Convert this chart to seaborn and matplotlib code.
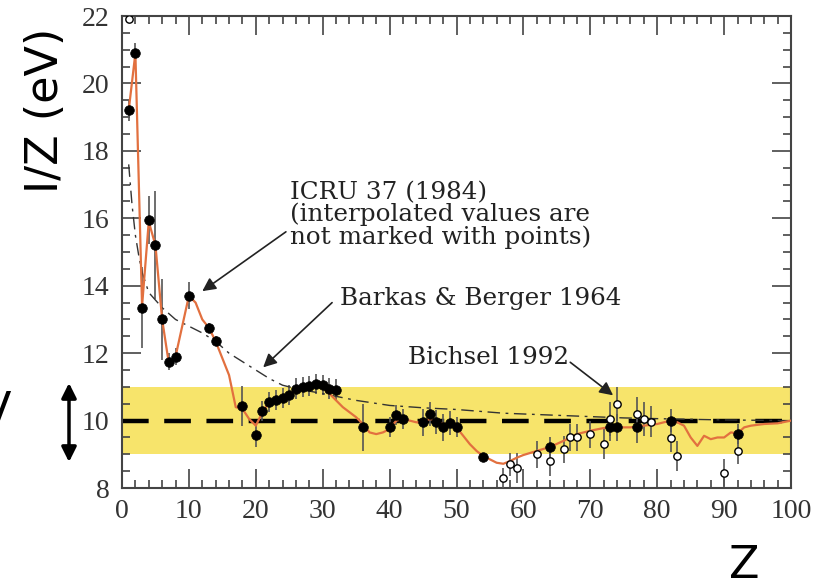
import matplotlib
matplotlib.use("Agg")
import matplotlib.pyplot as plt
import seaborn as sns
from matplotlib.ticker import MultipleLocator

# ---- data ----
# measured values, filled markers
filled_z = [1, 2, 3, 4, 5, 6, 7, 8, 10, 13, 14, 18, 20, 21, 22, 23, 24, 25, 26,
            27, 28, 29, 30, 31, 32, 36, 40, 41, 42, 45, 46, 47, 48, 49, 50, 54,
            64, 73, 74, 77, 82, 92]
filled_i = [19.2, 20.9, 13.35, 15.95, 15.2, 13.0, 11.75, 11.9, 13.7, 12.75, 12.35,
            10.43, 9.57, 10.28, 10.55, 10.62, 10.68, 10.75, 10.95, 11.0, 11.02,
            11.08, 11.05, 10.95, 10.92, 9.8, 9.8, 10.17, 10.05, 9.95, 10.2, 9.95,
            9.8, 9.93, 9.8, 8.92, 9.22, 9.8, 9.8, 9.8, 10.0, 9.6]
filled_err = [0.3, 0.3, 1.2, 0.7, 1.6, 1.2, 0.25, 0.25, 0.4, 0.15, 0.15, 0.6,
              0.35, 0.3, 0.3, 0.3, 0.3, 0.3, 0.3, 0.3, 0.3, 0.3, 0.3, 0.3, 0.3,
              0.7, 0.3, 0.3, 0.3, 0.4, 0.35, 0.35, 0.4, 0.35, 0.3, 0.05, 0.3,
              0.4, 0.4, 0.45, 0.35, 0.3]

# open markers
open_z = [1, 57, 58, 59, 62, 64, 66, 67, 68, 70, 72, 73, 74, 77, 78, 79, 82, 83, 90, 92]
open_i = [21.9, 8.3, 8.7, 8.6, 9.0, 8.8, 9.15, 9.5, 9.5, 9.6, 9.3, 10.05, 10.5,
          10.2, 10.05, 9.97, 9.48, 8.95, 8.45, 9.1]
open_err = [0.1, 0.3, 0.35, 0.45, 0.4, 0.45, 0.4, 0.4, 0.4, 0.4, 0.45, 0.5, 0.5,
            0.5, 0.5, 0.45, 0.4, 0.45, 0.4, 0.4]

# ICRU 37 (1984) curve
icru_z = [1, 2, 3, 4, 5, 6, 7, 8, 9, 10, 11, 12, 13, 14, 15, 16, 17, 18, 19, 20,
          21, 22, 23, 24, 25, 26, 27, 28, 29, 30, 31, 32, 33, 34, 35, 36, 37, 38,
          39, 40, 41, 42, 43, 44, 45, 46, 47, 48, 49, 50, 51, 52, 53, 54, 55, 56,
          57, 58, 59, 60, 62, 64, 66, 68, 70, 72, 74, 76, 78, 80, 82, 83, 84, 85,
          86, 87, 88, 89, 90, 91, 92, 93, 94, 96, 98, 100]
icru_i = [19.2, 20.9, 13.4, 15.9, 15.2, 13.0, 11.7, 11.9, 12.8, 13.7, 13.5, 13.0,
          12.75, 12.35, 11.85, 11.35, 10.4, 10.35, 10.05, 9.85, 10.25, 10.55,
          10.62, 10.7, 10.75, 10.95, 11.0, 11.0, 11.05, 11.0, 10.8, 10.6, 10.4,
          10.25, 10.1, 9.9, 9.65, 9.6, 9.65, 9.75, 10.0, 10.05, 10.0, 9.95, 9.95,
          10.05, 10.0, 9.9, 9.9, 9.8, 9.55, 9.3, 9.1, 8.95, 8.85, 8.75, 8.72,
          8.8, 8.9, 8.98, 9.1, 9.22, 9.4, 9.6, 9.7, 9.78, 9.8, 9.8, 9.85, 9.9,
          10.0, 9.95, 9.85, 9.5, 9.25, 9.55, 9.45, 9.5, 9.5, 9.65, 9.62, 9.8,
          9.85, 9.9, 9.92, 10.0]

# Barkas & Berger 1964 curve
bb_z = [1, 1.5, 2, 2.5, 3, 4, 6, 8, 10, 12, 14, 16, 18, 20, 22, 24, 26, 30, 35,
        40, 45, 50, 57, 66, 75, 82, 90, 100]
bb_i = [17.6, 16.4, 15.5, 14.9, 14.4, 13.8, 13.35, 13.0, 12.8, 12.6, 12.35, 12.0,
        11.75, 11.5, 11.25, 11.05, 10.95, 10.8, 10.6, 10.45, 10.38, 10.33, 10.22,
        10.15, 10.08, 10.05, 10.02, 10.0]

band_low, band_high = 9, 11
ref_level = 10

x_ticks = [0, 10, 20, 30, 40, 50, 60, 70, 80, 90, 100]
y_ticks = [8, 10, 12, 14, 16, 18, 20, 22]

# ---- figure ----
sns.set_theme(style="ticks")
plt.rcParams["font.family"] = ["DejaVu Sans"]

fig = plt.figure(figsize=(8.21, 5.88), dpi=100)
ax = fig.add_axes([0.1486, 0.170, 0.8149, 0.8027])

ax.axhspan(band_low, band_high, color="#f7e46b", zorder=0, lw=0)
ax.axhline(ref_level, color="black", lw=3.2, dashes=(6, 3.5), zorder=2)

ax.errorbar(filled_z, filled_i, yerr=filled_err, fmt="none", ecolor="#555555",
            elinewidth=1.2, capsize=0, zorder=3)
ax.errorbar(open_z, open_i, yerr=open_err, fmt="none", ecolor="#555555",
            elinewidth=1.2, capsize=0, zorder=3)

sns.lineplot(x=bb_z, y=bb_i, ax=ax, color="#333333", lw=1.0,
             linestyle=(0, (9, 4, 2, 4)), sort=False, estimator=None, zorder=3)
sns.lineplot(x=icru_z, y=icru_i, ax=ax, color="#e2703f", lw=1.6,
             sort=False, estimator=None, zorder=4)

sns.scatterplot(x=filled_z, y=filled_i, ax=ax, color="black", s=48,
                edgecolor="black", linewidth=0.5, zorder=5)
sns.scatterplot(x=open_z, y=open_i, ax=ax, color="white", s=28,
                edgecolor="black", linewidth=1.0, zorder=5)

ax.set_xlim(0, 100)
ax.set_ylim(8, 22)
ax.set_xticks(x_ticks)
ax.set_yticks(y_ticks)
ax.xaxis.set_minor_locator(MultipleLocator(2))
ax.yaxis.set_minor_locator(MultipleLocator(0.5))
ax.tick_params(which="both", direction="in", top=True, right=True,
               color="#444444", width=1.2)
ax.tick_params(which="major", length=14, labelsize=20, labelcolor="#333333")
ax.tick_params(axis="x", which="major", pad=8)
ax.tick_params(axis="y", which="major", pad=9)
ax.tick_params(which="minor", length=6)
for lab in ax.get_xticklabels() + ax.get_yticklabels():
    lab.set_fontfamily("Liberation Serif")
for sp in ax.spines.values():
    sp.set_color("#444444")
    sp.set_linewidth(1.5)
ax.set_xlabel("")
ax.set_ylabel("")

# annotations
note_font = dict(family="DejaVu Serif", fontsize=17.7, color="#222222")
ax.text(25.1, 17.1, "ICRU 37 (1984)\n(interpolated values are\nnot marked with points)",
        ha="left", va="top", linespacing=0.93, **note_font)
ax.text(32.6, 13.63, "Barkas & Berger 1964", ha="left", va="center", **note_font)
ax.text(42.75, 11.88, "Bichsel 1992", ha="left", va="center", **note_font)

arrow = dict(arrowstyle="-|>", color="#222222", lw=1.2, mutation_scale=20,
             shrinkA=0, shrinkB=0)
ax.annotate("", xy=(12.0, 13.84), xytext=(24.5, 15.6), arrowprops=arrow)
ax.annotate("", xy=(21.1, 11.58), xytext=(31.4, 13.5), arrowprops=arrow)
ax.annotate("", xy=(73.4, 10.75), xytext=(67.0, 11.73), arrowprops=arrow)

# labels outside the axes
fig.text(45 / 821, 1 - 110 / 588, "I/Z (eV)", rotation=90, ha="center",
         va="center", fontsize=32, color="black")
fig.text(744 / 821, 1 - 587 / 588, "Z", ha="center", va="bottom",
         fontsize=32, color="black")
# only the right stroke of this letter is inside the picture in the reference
fig.text(11 / 821, 1 - 424 / 588, "V", ha="right", va="baseline",
         fontsize=32, color="black")
ax.annotate("", xy=(69 / 821, 1 - 462 / 588), xytext=(69 / 821, 1 - 383 / 588),
            xycoords="figure fraction", textcoords="figure fraction",
            arrowprops=dict(arrowstyle="<|-|>", color="black", lw=2.5,
                            mutation_scale=22, shrinkA=0, shrinkB=0))

fig.savefig("out.png", dpi=100, facecolor="white")
